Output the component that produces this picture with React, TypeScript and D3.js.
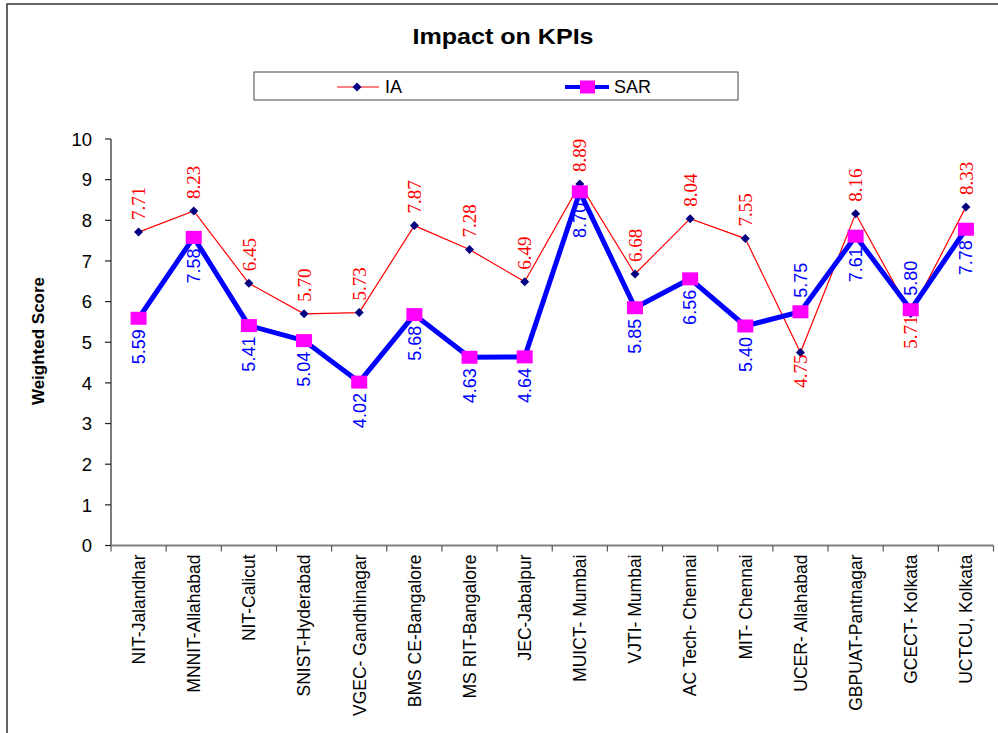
import { useEffect, useMemo } from "react";
import * as d3 from "d3";

const categories = [
  "NIT-Jalandhar",
  "MNNIT-Allahabad",
  "NIT-Calicut",
  "SNIST-Hyderabad",
  "VGEC- Gandhinagar",
  "BMS CE-Bangalore",
  "MS RIT-Bangalore",
  "JEC-Jabalpur",
  "MUICT- Mumbai",
  "VJTI- Mumbai",
  "AC Tech- Chennai",
  "MIT- Chennai",
  "UCER- Allahabad",
  "GBPUAT-Pantnagar",
  "GCECT- Kolkata",
  "UCTCU, Kolkata",
];

const iaValues = [7.71, 8.23, 6.45, 5.7, 5.73, 7.87, 7.28, 6.49, 8.89, 6.68, 8.04, 7.55, 4.75, 8.16, 5.71, 8.33];
const sarValues = [5.59, 7.58, 5.41, 5.04, 4.02, 5.68, 4.63, 4.64, 8.7, 5.85, 6.56, 5.4, 5.75, 7.61, 5.8, 7.78];
const yTicks = [0, 1, 2, 3, 4, 5, 6, 7, 8, 9, 10];

// labels that Excel placed on the other side of the point
const iaBelow = new Set([12, 14]);
const sarAbove = new Set([12, 14]);

const W = 998;
const H = 733;
const left = 111;
const right = 993.5;
const top = 139;
const bottom = 545.5;

const sans = "Arial, 'Liberation Sans', sans-serif";
const serif = "'Times New Roman', 'Liberation Serif', serif";

export default function App() {
  useEffect(() => {
    document.body.style.margin = "0";
  }, []);

  const { x, y, iaPath, sarPath } = useMemo(() => {
    const x = d3.scaleBand<string>().domain(categories).range([left, right]);
    const y = d3.scaleLinear().domain([0, 10]).range([bottom, top]);
    const cx = (i: number) => (x(categories[i]) ?? 0) + x.bandwidth() / 2;
    const line = d3
      .line<number>()
      .x((_d, i) => cx(i))
      .y((d) => y(d));
    return { x, y, iaPath: line(iaValues) ?? "", sarPath: line(sarValues) ?? "" };
  }, []);

  const cx = (i: number) => (x(categories[i]) ?? 0) + x.bandwidth() / 2;
  const bw = x.bandwidth();

  return (
    <svg width={W} height={H} style={{ display: "block", background: "#fff" }}>
      <path d={`M7,${H} V4 H${W}`} fill="none" stroke="#333" strokeWidth={1.5} />

      <text
        transform="translate(503,44) scale(1.14,1)"
        textAnchor="middle"
        fontFamily={sans}
        fontWeight="bold"
        fontSize={22}
      >
        Impact on KPIs
      </text>

      {/* legend */}
      <rect x={254} y={72} width={484} height={28} fill="#fff" stroke="#444" strokeWidth={1} />
      <line x1={337} x2={379} y1={87} y2={87} stroke="#ff0000" strokeWidth={1} />
      <path d="M357,82.5 L361.5,87 L357,91.5 L352.5,87 Z" fill="#000080" />
      <text x={385} y={93} fontFamily={sans} fontSize={18}>IA</text>
      <line x1={565} x2={609} y1={87} y2={87} stroke="#0000ff" strokeWidth={4} />
      <rect x={580} y={80.5} width={15} height={13} fill="#ff00ff" />
      <text x={614} y={93} fontFamily={sans} fontSize={18}>SAR</text>

      {/* y axis */}
      <line x1={left} x2={left} y1={top} y2={bottom} stroke="#222" strokeWidth={1.2} />
      {yTicks.map((t) => (
        <g key={t}>
          <line x1={left - 6} x2={left} y1={y(t)} y2={y(t)} stroke="#222" strokeWidth={1.2} />
          <text x={92} y={y(t)} dy="0.36em" textAnchor="end" fontFamily={sans} fontSize={18.5}>
            {t}
          </text>
        </g>
      ))}
      <text
        transform={`translate(38,341) rotate(-90)`}
        textAnchor="middle"
        dy="0.36em"
        fontFamily={sans}
        fontWeight="bold"
        fontSize={17}
      >
        Weighted Score
      </text>

      {/* x axis */}
      <line x1={left} x2={right} y1={bottom} y2={bottom} stroke="#808080" strokeWidth={2} />
      {d3.range(categories.length + 1).map((i) => (
        <line key={i} x1={left + i * bw} x2={left + i * bw} y1={bottom} y2={bottom + 6} stroke="#555" strokeWidth={1.2} />
      ))}
      {categories.map((c, i) => (
        <text
          key={c}
          transform={`translate(${cx(i)},${bottom + 9}) rotate(-90)`}
          textAnchor="end"
          dy="0.36em"
          fontFamily={sans}
          fontSize={17.5}
        >
          {c}
        </text>
      ))}

      {/* IA series */}
      <path d={iaPath} fill="none" stroke="#ff0000" strokeWidth={1.2} />
      {/* SAR series */}
      <path d={sarPath} fill="none" stroke="#0000ff" strokeWidth={5} strokeLinejoin="round" />
      {iaValues.map((v, i) => (
        <path
          key={i}
          d={`M${cx(i)},${y(v) - 4.5} L${cx(i) + 4.5},${y(v)} L${cx(i)},${y(v) + 4.5} L${cx(i) - 4.5},${y(v)} Z`}
          fill="#000080"
        />
      ))}
      {sarValues.map((v, i) => (
        <rect key={i} x={cx(i) - 8} y={y(v) - 6.5} width={16} height={13} fill="#ff00ff" />
      ))}

      {/* data labels */}
      {iaValues.map((v, i) => {
        const below = iaBelow.has(i);
        return (
          <text
            key={i}
            transform={`translate(${cx(i)},${below ? y(v) + 2 : y(v) - 12}) rotate(-90)`}
            textAnchor={below ? "end" : "start"}
            dy="0.35em"
            fontFamily={serif}
            fontSize={19}
            fill="#ff0000"
          >
            {v.toFixed(2)}
          </text>
        );
      })}
      {sarValues.map((v, i) => {
        const above = sarAbove.has(i);
        return (
          <text
            key={i}
            transform={`translate(${cx(i)},${above ? y(v) - 14 : y(v) + 11}) rotate(-90)`}
            textAnchor={above ? "start" : "end"}
            dy="0.35em"
            fontFamily={sans}
            fontSize={18}
            fill="#0000ff"
          >
            {v.toFixed(2)}
          </text>
        );
      })}
    </svg>
  );
}
